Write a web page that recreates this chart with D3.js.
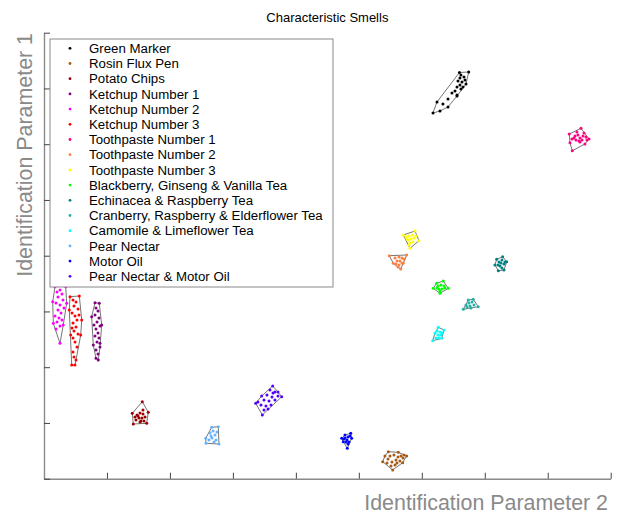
<!DOCTYPE html>
<html>
<head>
<meta charset="utf-8">
<script src="https://cdn.jsdelivr.net/npm/d3@7"></script>
<style>
  body { margin: 0; background: #fff; }
  svg { display: block; }
  text { font-family: "Liberation Sans", Arial, Helvetica, sans-serif; }
</style>
</head>
<body>
<svg id="chart" width="621" height="515"></svg>
<script>
// Smell categories, in legend order
const categories = [
  "Green Marker", "Rosin Flux Pen", "Potato Chips",
  "Ketchup Number 1", "Ketchup Number 2", "Ketchup Number 3",
  "Toothpaste Number 1", "Toothpaste Number 2", "Toothpaste Number 3",
  "Blackberry, Ginseng & Vanilla Tea", "Echinacea & Raspberry Tea",
  "Cranberry, Raspberry & Elderflower Tea", "Camomile & Limeflower Tea",
  "Pear Nectar", "Motor Oil", "Pear Nectar & Motor Oil"
];

// Measurements per category: [parameter 2, parameter 1]
const greenMarker = [[67.45,72.95],[65.98,72.86],[66.22,72.41],[66.70,72.05],[66.06,71.87],[66.86,71.52],
  [65.75,71.34],[66.38,71.16],[67.02,70.80],[66.06,70.62],[66.54,70.26],[65.59,70.26],[66.22,69.90],
  [65.27,69.54],[64.79,69.18],[65.59,68.83],[64.16,68.11],[63.36,67.21],[62.41,67.57],[61.78,65.60],
  [62.89,65.96],[64.16,66.67],[65.59,68.65]];
const rosinFluxPen = [[54.68,4.84],[56.27,4.74],[57.60,4.07],[56.96,2.87],[55.38,1.56],[53.79,3.05],
  [54.15,4.07],[54.95,4.07],[55.58,4.25],[56.22,3.89],[56.69,4.07],[55.90,3.35],[55.26,3.00],
  [56.53,3.17],[54.63,3.53],[55.74,2.46],[57.01,3.71],[55.11,2.28],[54.47,2.82],[56.06,2.82],[57.17,4.25]];
const potatoChips = [[15.61,13.81],[16.56,11.91],[16.31,9.94],[14.18,9.81],[14.02,11.73],[14.77,11.43],
  [15.25,11.79],[15.72,11.61],[15.09,10.89],[15.56,10.89],[16.04,11.07],[14.61,10.53],[15.40,10.35],
  [15.88,10.35],[14.93,11.25],[15.72,12.32],[15.25,10.17],[14.45,11.07]];
const ketchup1 = [[8.10,31.57],[8.78,31.46],[9.16,27.57],[8.89,24.29],[8.62,21.29],[8.26,21.60],
  [7.83,23.98],[7.57,29.06],[8.26,30.62],[8.58,30.08],[8.10,29.36],[8.73,28.83],[8.42,28.11],
  [8.89,27.39],[8.26,26.85],[8.58,26.13],[8.10,25.60],[8.73,25.24],[8.42,24.52],[8.89,23.62],
  [8.26,23.08],[8.58,22.37],[7.94,27.57]];
const ketchup2 = [[1.75,34.44],[3.45,34.44],[3.60,31.46],[3.06,27.57],[2.54,24.29],[1.48,27.87],
  [1.38,31.75],[2.06,33.49],[2.54,33.85],[2.86,33.13],[2.22,32.59],[3.02,32.05],[1.91,31.52],
  [2.54,31.16],[3.18,30.62],[2.22,30.26],[2.70,29.72],[1.75,29.19],[2.38,28.83],[2.86,28.47],
  [2.06,28.11],[2.54,27.39],[1.91,26.85],[2.38,35.28],[3.02,35.28]];
const ketchup3 = [[4.13,32.65],[5.61,32.77],[5.99,28.47],[5.83,25.78],[4.92,20.39],[4.40,20.39],
  [4.24,25.78],[4.02,30.26],[4.61,32.05],[5.08,31.70],[4.76,30.98],[5.40,30.44],[4.45,29.72],
  [4.92,29.19],[5.24,28.47],[4.61,27.93],[5.08,27.21],[4.76,26.49],[5.40,25.96],[4.61,25.24],
  [4.92,24.52],[5.24,23.62],[4.61,22.73],[4.76,21.83],[5.08,21.29],[4.45,27.03],[5.56,29.36]];
const toothpaste1 = [[83.42,61.83],[85.28,62.85],[86.55,60.93],[85.91,60.04],[83.90,58.83],[83.53,60.27],
  [84.33,61.47],[84.80,61.65],[85.12,61.11],[85.60,61.47],[86.07,61.29],[84.48,60.75],[84.96,60.57],
  [85.44,60.75],[84.17,61.11],[85.76,62.01],[84.64,62.19],[86.23,60.75],[83.85,60.93],[85.12,60.39]];
const toothpaste2 = [[54.84,40.00],[57.60,40.13],[57.06,38.64],[56.65,37.62],[55.47,38.64],[55.74,39.59],
  [56.38,39.77],[56.85,39.59],[56.06,39.05],[56.53,39.05],[57.17,39.41],[55.90,38.51],[56.38,38.33],
  [56.85,38.69],[56.22,37.97]];
const toothpaste3 = [[57.06,43.71],[58.92,44.43],[59.55,42.69],[58.12,41.32],[57.49,43.35],[57.96,43.53],
  [58.44,43.71],[57.81,42.82],[58.28,43.00],[58.76,43.17],[58.12,42.28],[58.60,42.46],[57.65,43.00],
  [57.96,41.92],[59.08,43.53]];
const blackberryTea = [[62.36,35.05],[63.41,35.46],[64.21,34.15],[62.89,33.26],[61.82,34.15],[62.57,34.57],
  [63.05,34.74],[63.52,34.57],[62.73,34.03],[63.20,34.03],[63.68,34.21],[62.41,34.21],[62.89,33.67]];
const echinaceaTea = [[71.89,39.35],[72.84,39.82],[73.48,38.92],[73.05,37.43],[72.15,37.31],[71.62,38.33],
  [72.26,38.87],[72.73,39.23],[73.05,38.51],[72.42,38.15],[72.73,37.79],[72.10,38.33],[73.21,38.87],[72.57,38.69]];
const cranberryTea = [[67.38,32.05],[68.17,32.18],[68.97,30.85],[66.59,30.39],[67.02,31.16],[67.49,31.52],
  [67.97,31.70],[67.65,30.98],[68.29,31.16],[67.18,30.80],[67.81,30.62]];
const camomileTea = [[62.62,27.16],[63.52,26.67],[63.16,25.18],[61.73,24.75],[62.09,26.08],[62.41,26.49],
  [62.89,26.31],[62.57,25.78],[63.05,25.78],[62.25,25.24],[62.73,25.24],[63.20,26.13]];
const pearNectar = [[26.63,9.22],[27.68,9.33],[27.79,6.22],[25.73,6.35],[25.68,7.25],[26.36,8.20],
  [26.84,8.56],[27.16,7.84],[26.68,7.30],[27.31,6.94],[26.20,6.94],[27.00,6.58],[27.47,8.38],[26.52,7.66]];
const motorOil = [[48.71,8.14],[48.86,7.25],[48.17,5.45],[47.28,7.25],[47.80,7.84],[47.53,6.64],
  [47.80,7.30],[48.28,7.48],[48.12,6.94],[48.44,6.58],[47.96,6.58],[47.64,7.12],[48.59,7.66],[48.28,6.22]];
const pearNectarMotorOil = [[36.32,16.63],[37.75,14.71],[34.67,11.43],[33.62,13.52],[34.57,14.83],
  [35.89,15.91],[36.68,15.55],[35.41,15.01],[36.21,14.65],[37.16,14.83],[34.94,14.12],[35.73,13.94],
  [36.68,14.12],[34.46,13.22],[35.25,13.04],[36.05,13.22],[34.94,12.32],[35.57,12.50],[37.16,15.55],
  [33.98,13.76],[36.37,15.37]];

const seriesPoints = [greenMarker, rosinFluxPen, potatoChips, ketchup1, ketchup2, ketchup3,
  toothpaste1, toothpaste2, toothpaste3, blackberryTea, echinaceaTea, cranberryTea, camomileTea,
  pearNectar, motorOil, pearNectarMotorOil];

// Unlabelled tick positions on both axes
const xTickValues = [0, 10, 20, 30, 40, 50, 60, 70, 80, 90];
const yTickValues = [0, 10, 20, 30, 40, 50, 60, 70, 80];

const seriesColors = ["#000000", "#a65a14", "#990000", "#800080", "#ff00ff", "#ff0000",
  "#ff0080", "#ff7f40", "#ffff00", "#00ff00", "#008080", "#20b2aa", "#00ffff",
  "#66b2ff", "#0000ff", "#5000ff"];

const svg = d3.select("#chart");
const plotLeft = 44, plotRight = 610.7, plotTop = 32.7, plotBottom = 478.7;

const x = d3.scaleLinear().domain([0, 90]).range([plotLeft, plotRight]);
const y = d3.scaleLinear().domain([0, 80]).range([plotBottom, plotTop]);

// Title
svg.append("text")
  .attr("x", (plotLeft + plotRight) / 2).attr("y", 22)
  .attr("text-anchor", "middle")
  .attr("font-size", 13).attr("fill", "#000")
  .text("Characteristic Smells");

// Axes: inward ticks, no labels
const xAxis = svg.append("g")
  .attr("transform", `translate(0,${plotBottom})`)
  .call(d3.axisBottom(x).tickValues(xTickValues).tickSizeInner(-6).tickSizeOuter(0).tickFormat(""));
const yAxis = svg.append("g")
  .attr("transform", `translate(${plotLeft},0)`)
  .call(d3.axisLeft(y).tickValues(yTickValues).tickSizeInner(-6).tickSizeOuter(0).tickFormat(""));
[xAxis, yAxis].forEach(g => {
  g.select(".domain").attr("stroke", "#8a8a8a").attr("stroke-width", 1.4);
  g.selectAll(".tick line").attr("stroke", "#444").attr("stroke-width", 1);
});

// Axis titles
svg.append("text")
  .attr("x", 608).attr("y", 510)
  .attr("text-anchor", "end")
  .attr("font-size", 21.4).attr("fill", "#8a8a8a")
  .text("Identification Parameter 2");
svg.append("text")
  .attr("transform", "translate(32,33) rotate(-90)")
  .attr("text-anchor", "end")
  .attr("font-size", 21.4).attr("fill", "#8a8a8a")
  .text("Identification Parameter 1");

// Clusters: convex hull outline plus the individual measurements
const clusters = svg.append("g");
seriesPoints.forEach((pts, i) => {
  const px = pts.map(p => [x(p[0]), y(p[1])]);
  const hull = d3.polygonHull(px);
  const g = clusters.append("g");
  if (hull) {
    g.append("path")
      .attr("d", "M" + hull.map(p => p.join(",")).join("L") + "Z")
      .attr("fill", "none")
      .attr("stroke", "#3a3a3a")
      .attr("stroke-width", 0.7);
  }
  g.selectAll("circle").data(px).join("circle")
    .attr("cx", d => d[0]).attr("cy", d => d[1])
    .attr("r", 1.5)
    .attr("fill", seriesColors[i]);
});

// Legend
const legend = svg.append("g");
const legendTop = 39, rowGap = 15.2, firstRow = 48.3;
legend.append("rect")
  .attr("x", 50).attr("y", legendTop)
  .attr("width", 283).attr("height", 248)
  .attr("fill", "#fff").attr("stroke", "#8a8a8a").attr("stroke-width", 1);
categories.forEach((name, i) => {
  const cy = firstRow + i * rowGap;
  legend.append("circle")
    .attr("cx", 70).attr("cy", cy).attr("r", 1.4)
    .attr("fill", seriesColors[i]);
  legend.append("text")
    .attr("x", 89).attr("y", cy + 4.6)
    .attr("font-size", 13.25).attr("fill", "#000")
    .text(name);
});
</script>
</body>
</html>
